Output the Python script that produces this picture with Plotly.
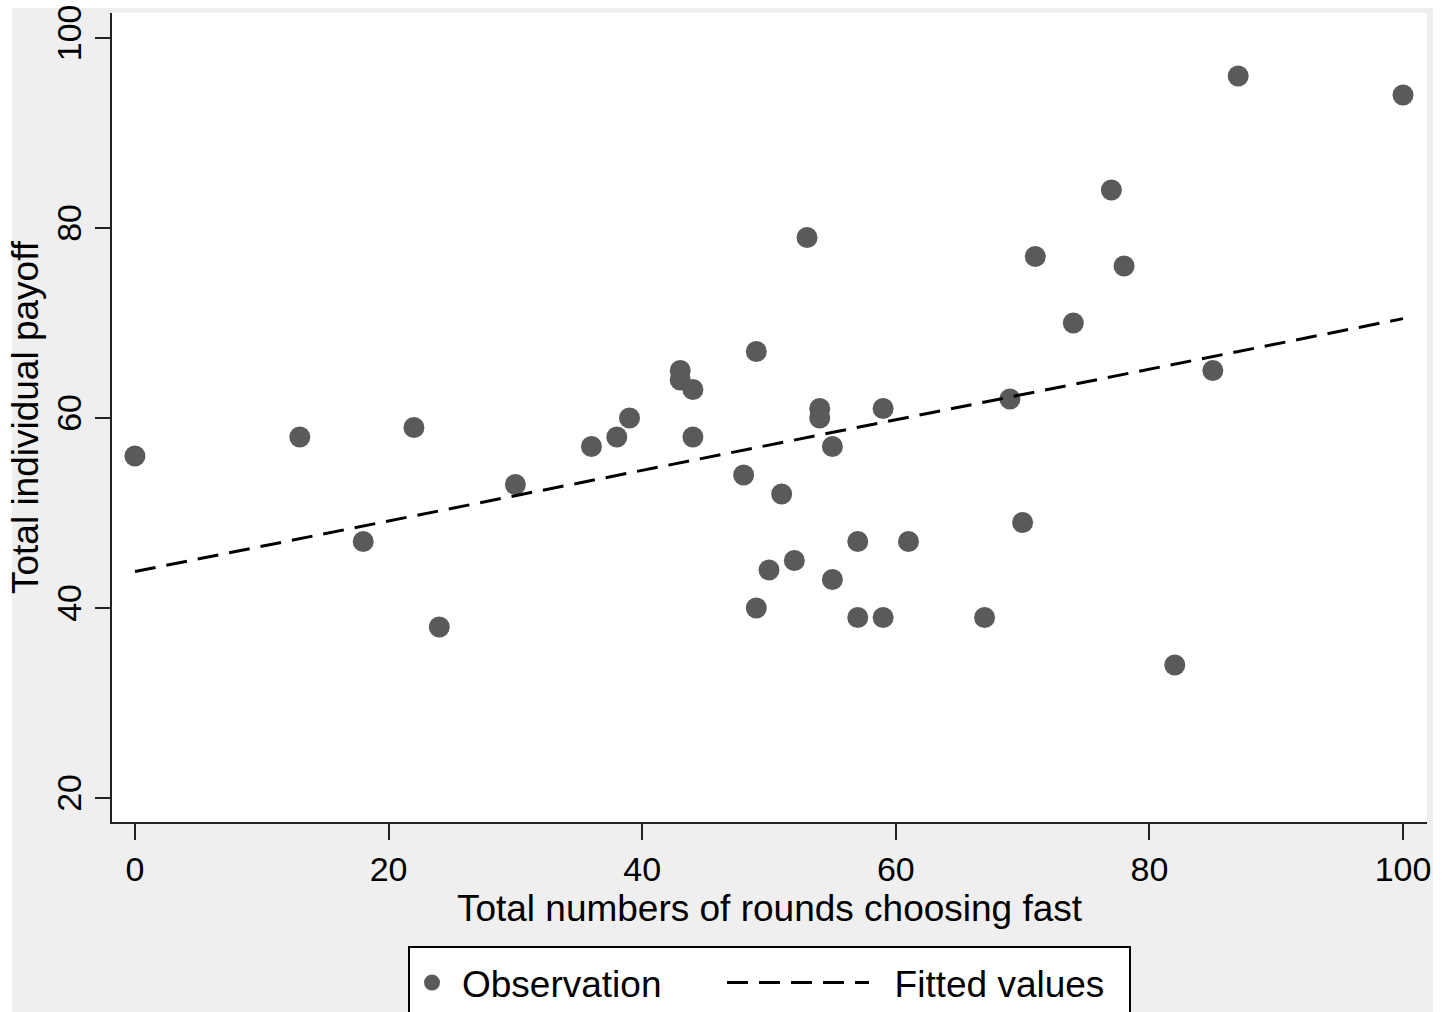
import numpy as np
import plotly.graph_objects as go

# ---- data ----
rounds_fast = [0, 13, 18, 22, 24, 30, 36, 38, 39, 43, 43, 44, 44, 48, 49, 49, 50, 51, 52, 53,
               54, 54, 55, 55, 57, 57, 59, 59, 61, 67, 69, 70, 71, 74, 77, 78, 82, 85, 87, 100]
payoff = [56, 58, 47, 59, 38, 53, 57, 58, 60, 65, 64, 63, 58, 54, 67, 40, 44, 52, 45, 79,
          61, 60, 57, 43, 47, 39, 61, 39, 47, 39, 62, 49, 77, 70, 84, 76, 34, 65, 96, 94]
x_ticks = [0, 20, 40, 60, 80, 100]
y_ticks = [20, 40, 60, 80, 100]
grid_ticks = [40, 60, 80, 100]

# ---- fitted values (OLS of payoff on rounds) ----
slope, intercept = np.polyfit(rounds_fast, payoff, 1)
fit_x = [min(rounds_fast), max(rounds_fast)]
fit_y = [intercept + slope * v for v in fit_x]

W, H = 1451, 1012
L, R, T, B = 112, 24, 13, 190
PW, PH = W - L - R, H - T - B


def px(xp):
    return (xp - L) / PW


def py(yp):
    return (H - B - yp) / PH


FONT = "Arial, Liberation Sans, sans-serif"
AX = "#222222"
NBSP = "\u00a0"

fig = go.Figure()
fig.add_trace(go.Scatter(
    x=rounds_fast, y=payoff, mode="markers", name="Observation",
    marker=dict(size=21, color="#5a5a5a", line=dict(width=0)),
    legend="legend"))
fig.add_trace(go.Scatter(
    x=fit_x, y=fit_y, mode="lines", name=NBSP * 2 + "Fitted values",
    line=dict(color="black", width=3, dash="21px,11px"),
    legend="legend2"))

yr = [17.47, 102.63]
fig.update_layout(
    width=W, height=H,
    margin=dict(l=L, r=R, t=T, b=B, pad=0, autoexpand=False),
    paper_bgcolor="#efefef", plot_bgcolor="white",
    font=dict(family=FONT, color="black"),
    xaxis=dict(range=[-1.81, 101.89], tickvals=x_ticks, ticks="outside", ticklen=16,
               tickwidth=2, tickcolor=AX, showline=True, linecolor=AX, linewidth=2,
               showgrid=False, zeroline=False, tickfont=dict(size=34), automargin=False,
               title=dict(text="Total numbers of rounds choosing fast",
                          font=dict(size=37), standoff=1)),
    yaxis=dict(range=yr, tickvals=y_ticks, ticks="outside", ticklen=15, tickwidth=2,
               tickcolor=AX, showline=True, linecolor=AX, linewidth=2, showgrid=False,
               zeroline=False, tickangle=-90, tickfont=dict(size=34), automargin=False,
               title=dict(text="Total individual payoff", font=dict(size=37), standoff=0)),
    yaxis2=dict(range=yr, overlaying="y", tickvals=grid_ticks, showgrid=True,
                gridcolor="#e6e6e6", gridwidth=2, showticklabels=False, ticks="",
                showline=False, zeroline=False, automargin=False),
    legend=dict(orientation="h", xref="container", yref="container",
                x=402 / W, xanchor="left", y=1 - 983 / H, yanchor="middle",
                bgcolor="rgba(0,0,0,0)", borderwidth=0, itemwidth=50,
                font=dict(size=37)),
    legend2=dict(orientation="h", xref="container", yref="container",
                 x=722 / W, xanchor="left", y=1 - 983 / H, yanchor="middle",
                 bgcolor="rgba(0,0,0,0)", borderwidth=0, itemwidth=142,
                 font=dict(size=37)),
    showlegend=True,
    shapes=[
        # white margins outside the gray graph region
        dict(type="rect", xref="paper", yref="paper", x0=px(-10), x1=px(W + 10),
             y0=py(8), y1=py(-10), fillcolor="white", line=dict(width=0), layer="below"),
        dict(type="rect", xref="paper", yref="paper", x0=px(-10), x1=px(12),
             y0=py(H + 10), y1=py(-10), fillcolor="white", line=dict(width=0), layer="below"),
        dict(type="rect", xref="paper", yref="paper", x0=px(1433), x1=px(W + 10),
             y0=py(H + 10), y1=py(-10), fillcolor="white", line=dict(width=0), layer="below"),
        # legend box
        dict(type="rect", xref="paper", yref="paper", x0=px(409), x1=px(1130),
             y0=py(H + 20), y1=py(947), fillcolor="white",
             line=dict(color="black", width=2), layer="above"),
    ],
)
fig.write_html("out.html", config={"displayModeBar": False},
               post_script="document.body.style.margin='0';document.body.style.overflow='hidden';")
